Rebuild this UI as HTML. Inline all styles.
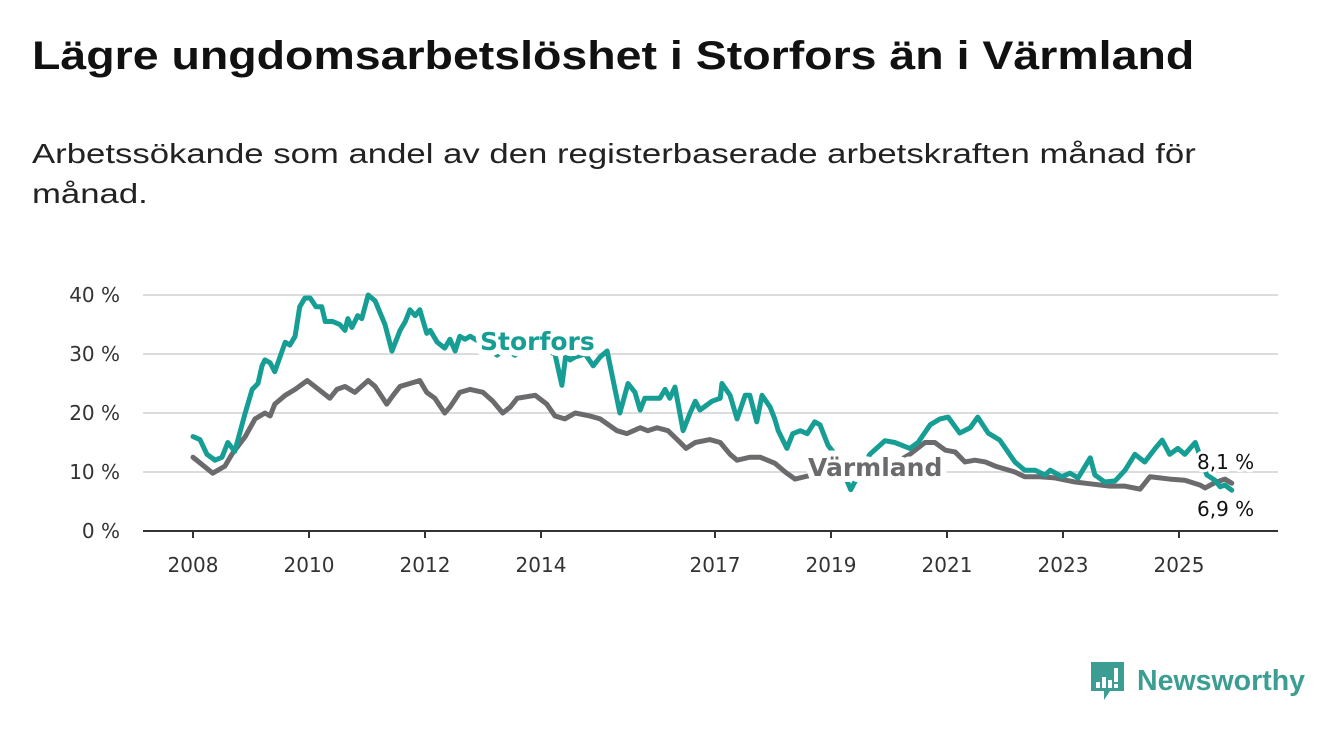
<!DOCTYPE html>
<html><head><meta charset="utf-8">
<style>
body{margin:0;background:#fff;width:1340px;height:734px;overflow:hidden;font-family:"Liberation Sans","DejaVu Sans",sans-serif;}
#title{position:absolute;left:32px;top:34px;font-size:40px;font-weight:bold;color:#111;margin:0;transform-origin:0 0;transform:scaleX(1.162);white-space:nowrap;}
#sub{position:absolute;left:32px;top:134px;font-size:28px;color:#222;line-height:40px;width:1200px;transform-origin:0 0;transform:scaleX(1.24);white-space:nowrap;}
svg{position:absolute;left:0;top:0;}
</style></head><body>
<h1 id="title">Lägre ungdomsarbetslöshet i Storfors än i Värmland</h1>
<div id="sub">Arbetssökande som andel av den registerbaserade arbetskraften månad för<br>månad.</div>
<svg id="chart" width="1340" height="734" font-family="DejaVu Sans, sans-serif"></svg>
<script>
const yTicks=[0,10,20,30,40];
const xTicks=[2008,2010,2012,2014,2017,2019,2021,2023,2025];
const storDates=[2008.00,2008.12,2008.24,2008.38,2008.50,2008.60,2008.72,2008.90,2009.02,2009.12,2009.19,2009.24,2009.33,2009.41,2009.59,2009.67,2009.76,2009.84,2009.93,2010.02,2010.12,2010.22,2010.28,2010.41,2010.53,2010.62,2010.67,2010.74,2010.84,2010.91,2011.02,2011.14,2011.31,2011.43,2011.57,2011.66,2011.74,2011.83,2011.91,2012.03,2012.09,2012.21,2012.34,2012.43,2012.52,2012.60,2012.69,2012.78,2012.95,2013.12,2013.24,2013.38,2013.55,2013.72,2013.98,2014.24,2014.36,2014.43,2014.50,2014.59,2014.76,2014.90,2015.02,2015.14,2015.36,2015.50,2015.62,2015.71,2015.79,2016.05,2016.14,2016.22,2016.31,2016.45,2016.57,2016.66,2016.74,2016.95,2017.09,2017.12,2017.26,2017.38,2017.52,2017.60,2017.72,2017.81,2017.95,2018.03,2018.09,2018.24,2018.34,2018.47,2018.59,2018.72,2018.81,2018.95,2019.07,2019.21,2019.34,2019.50,2019.67,2019.93,2020.10,2020.36,2020.50,2020.71,2020.88,2021.02,2021.22,2021.40,2021.53,2021.71,2021.91,2022.17,2022.34,2022.52,2022.69,2022.78,2022.98,2023.12,2023.26,2023.47,2023.55,2023.72,2023.90,2024.07,2024.24,2024.41,2024.59,2024.71,2024.84,2024.98,2025.10,2025.28,2025.48,2025.62,2025.71,2025.79,2025.91];
const storValues=[16,15.5,13,12,12.5,15,13.5,20,24,25,28,29,28.5,27,32,31.5,33,38,39.5,39.5,38,38,35.5,35.5,35,34,36,34.5,36.5,36,40,39,35,30.5,34,35.5,37.5,36.5,37.5,33.5,34,32,31,32.5,30.5,33,32.5,33,32,31,29.8,31,29.8,31,31,30,24.7,30,29,29.5,30,28,29.5,30.5,20,25,23.5,20.5,22.5,22.5,24,22.5,24.4,17,20,22,20.5,22,22.5,25,23,19,23,23,18.5,23,21,19,17,14,16.5,17,16.5,18.5,18,14.5,13,10,7,10,13,15.3,15,14,15,18,19,19.3,16.6,17.5,19.3,16.6,15.4,11.7,10.3,10.3,9.5,10.3,9.2,9.8,9,12.4,9.5,8.3,8.5,10.3,13,11.7,14,15.4,13,14,13,15,9.5,8.6,7.5,7.8,6.9];
const varmDates=[2008.00,2008.34,2008.55,2008.67,2008.90,2009.07,2009.24,2009.33,2009.41,2009.59,2009.76,2009.97,2010.10,2010.36,2010.48,2010.62,2010.79,2011.02,2011.14,2011.34,2011.45,2011.57,2011.74,2011.91,2012.03,2012.17,2012.34,2012.43,2012.60,2012.78,2013.00,2013.17,2013.34,2013.47,2013.59,2013.90,2014.10,2014.24,2014.41,2014.59,2014.84,2015.02,2015.31,2015.48,2015.71,2015.84,2016.00,2016.19,2016.40,2016.50,2016.66,2016.91,2017.09,2017.26,2017.38,2017.60,2017.78,2018.03,2018.21,2018.38,2018.59,2018.98,2019.50,2020.02,2020.36,2020.62,2020.79,2020.97,2021.14,2021.31,2021.48,2021.66,2021.83,2022.17,2022.34,2022.60,2022.86,2023.21,2023.47,2023.81,2024.07,2024.33,2024.50,2024.67,2024.84,2025.10,2025.36,2025.45,2025.62,2025.79,2025.91];
const varmValues=[12.5,9.8,11,13,16,19,20,19.5,21.5,23,24,25.5,24.5,22.5,24,24.5,23.5,25.5,24.5,21.5,23,24.5,25,25.5,23.5,22.5,20,21,23.5,24,23.5,22,20,21,22.5,23,21.5,19.5,19,20,19.5,19,17,16.5,17.5,17,17.5,17,15,14,15,15.5,15,13,12,12.5,12.5,11.5,10,8.8,9.3,10,10.5,11,13,15,15,13.7,13.4,11.7,12,11.7,11,10,9.2,9.2,9,8.3,8,7.6,7.6,7.1,9.2,9,8.8,8.6,7.8,7.3,8.2,8.8,8.1];
const labels=["8,1 %","6,9 %"];

const NS="http://www.w3.org/2000/svg";
const svg=document.getElementById('chart');
const X0=143,X1=1278;
const xs=d=>193+(d-2008)*58;
const ys=v=>531-v*5.9;
function mk(tag,attrs,parent){const e=document.createElementNS(NS,tag);for(const k in attrs)e.setAttribute(k,attrs[k]);(parent||svg).appendChild(e);return e;}
yTicks.forEach(t=>{
  if(t>0){const g=mk('line',{x1:X0,x2:X1,y1:ys(t),y2:ys(t),stroke:'#dcdcdc','stroke-width':2});
  
  }
  const l=mk('text',{x:120,y:ys(t)+7,'text-anchor':'end','font-size':20,fill:'#333'});
  l.textContent=t+' %';
  
  
});
const ax=mk('line',{x1:X0,x2:X1,y1:531,y2:531,stroke:'#333','stroke-width':2});


xTicks.forEach(t=>{
  mk('line',{x1:xs(t),x2:xs(t),y1:531,y2:538,stroke:'#333','stroke-width':2});
  const l=mk('text',{x:xs(t),y:572,'text-anchor':'middle','font-size':20,fill:'#333'});
  l.textContent=t;
  
  
});
function line(d,v,c,name){
  const p=mk('polyline',{points:d.map((x,i)=>xs(x)+','+ys(v[i])).join(' '),fill:'none',stroke:c,'stroke-width':5,'stroke-linejoin':'round','stroke-linecap':'round'});
  
  
}
line(varmDates,varmValues,'#6b6b6d','varmland-line');
line(storDates,storValues,'#169e95','storfors-line');
function lab(txt,x,y,c,size,bold,name){
  const t=mk('text',{x:x,y:y,'font-size':size,fill:c,'font-weight':bold?'bold':'normal',stroke:'#fff','stroke-width':bold?12:6,'paint-order':'stroke','stroke-linejoin':'round'});
  t.textContent=txt;
  
  
}
lab('Storfors',480,350,'#169e95',25,true,'storfors-label');
lab('Värmland',808,476,'#6b6b6d',25,true,'varmland-label');
lab(labels[0],1197,469,'#111',20,false,'varmland-end-value');
lab(labels[1],1197,516,'#111',20,false,'storfors-end-value');
</script>
<svg width="1340" height="734" style="pointer-events:none">
<path d="M1091 662h33v29h-14l-6 9v-9h-13z" fill="#3c9e92"/>
<rect x="1096" y="682" width="4" height="6" fill="#fff"/><rect x="1102" y="677" width="4" height="11" fill="#fff"/><rect x="1108" y="680" width="4" height="8" fill="#fff"/><rect x="1114" y="668" width="4" height="14" fill="#fff"/><rect x="1114" y="684" width="4" height="4" fill="#fff"/>
<text x="1137" y="690" font-size="29" fill="#3c9e92" font-family="Liberation Sans, sans-serif" font-weight="bold" textLength="168" lengthAdjust="spacingAndGlyphs">Newsworthy</text>
</svg>
</body></html>
